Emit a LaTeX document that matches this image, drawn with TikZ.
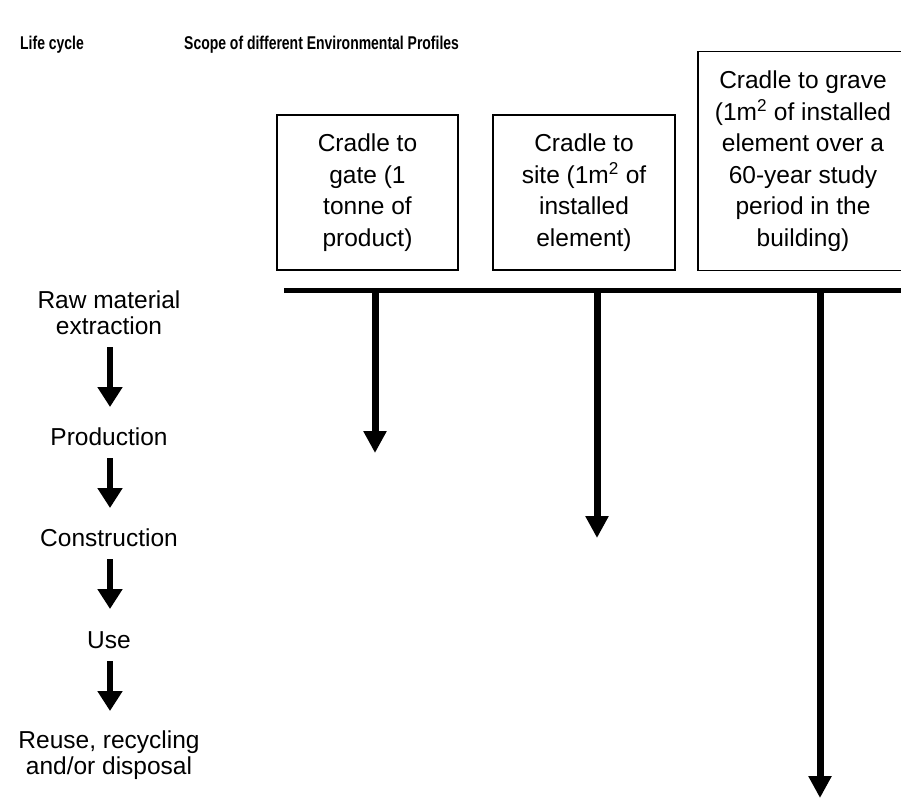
\documentclass[tikz,border=0pt]{standalone}
\usepackage{fontspec}
\setmainfont{Liberation Sans}
\newfontfamily\headfont{Liberation Sans}[FakeStretch=0.755]
\usetikzlibrary{arrows.meta}
\begin{document}
\begin{tikzpicture}[x=1pt,y=-1pt,
  scopebox/.style={draw, line width=1.5pt, align=center, inner sep=0pt,
    font=\fontsize{24.5}{31.5}\selectfont},
  stage/.style={align=center, inner sep=0pt, font=\fontsize{24.5}{26}\selectfont},
  heading/.style={anchor=west, inner sep=0pt, font=\headfont\fontsize{18.5}{22}\selectfont\bfseries},
  flow/.style={line width=6pt, -{Triangle[width=24pt,length=20pt]}},
  reach/.style={line width=7pt, -{Triangle[width=22pt,length=22pt]}},
  bar/.style={line width=5pt}]
\useasboundingbox (0,0) rectangle (901,798);

% headings
\node[heading] (hlife) at (20,45) {Life cycle};
\node[heading] (hscope) at (184,45) {Scope of different Environmental Profiles};

% scope boxes (the last one runs past the right edge)
\node[scopebox, minimum width=181pt, minimum height=155pt] (gate) at (367.5,192.5)
  {Cradle to\\gate (1\\tonne of\\product)};
\node[scopebox, minimum width=182pt, minimum height=155pt] (site) at (584,192.5)
  {Cradle to\\site (1m\textsuperscript{2} of\\installed\\element)};
\node[scopebox, minimum width=210pt, minimum height=219pt] (grave) at (803,161)
  {Cradle to grave\\(1m\textsuperscript{2} of installed\\element over a\\60-year study\\period in the\\building)};

% life cycle stages
\node[stage] (raw) at (109,313) {Raw material\\extraction};
\node[stage] (prod) at (109,437) {Production};
\node[stage] (cons) at (109,538) {Construction};
\node[stage] (use) at (109,640) {Use};
\node[stage] (eol) at (109,755) {Reuse, recycling\\and/or disposal};

% arrows between stages
\coordinate (f1s) at (110,347); \coordinate (f1e) at (110,407);
\coordinate (f2s) at (110,458); \coordinate (f2e) at (110,508);
\coordinate (f3s) at (110,559); \coordinate (f3e) at (110,609);
\coordinate (f4s) at (110,661); \coordinate (f4e) at (110,711);
\draw[flow] (f1s) -- (f1e);
\draw[flow] (f2s) -- (f2e);
\draw[flow] (f3s) -- (f3e);
\draw[flow] (f4s) -- (f4e);

% horizontal bar and the reach of each profile
\coordinate (barL) at (284,290.5);
\coordinate (barR) at (901,290.5);
\draw[bar] (barL) -- (barR);
\coordinate (g0) at (375,290); \coordinate (g1) at (375,453);
\coordinate (s0) at (597,290); \coordinate (s1) at (597,538);
\coordinate (r0) at (820,290); \coordinate (r1) at (820,798);
\draw[reach] (g0) -- (g1);
\draw[reach] (s0) -- (s1);
\draw[reach] (r0) -- (r1);
\end{tikzpicture}
\end{document}
